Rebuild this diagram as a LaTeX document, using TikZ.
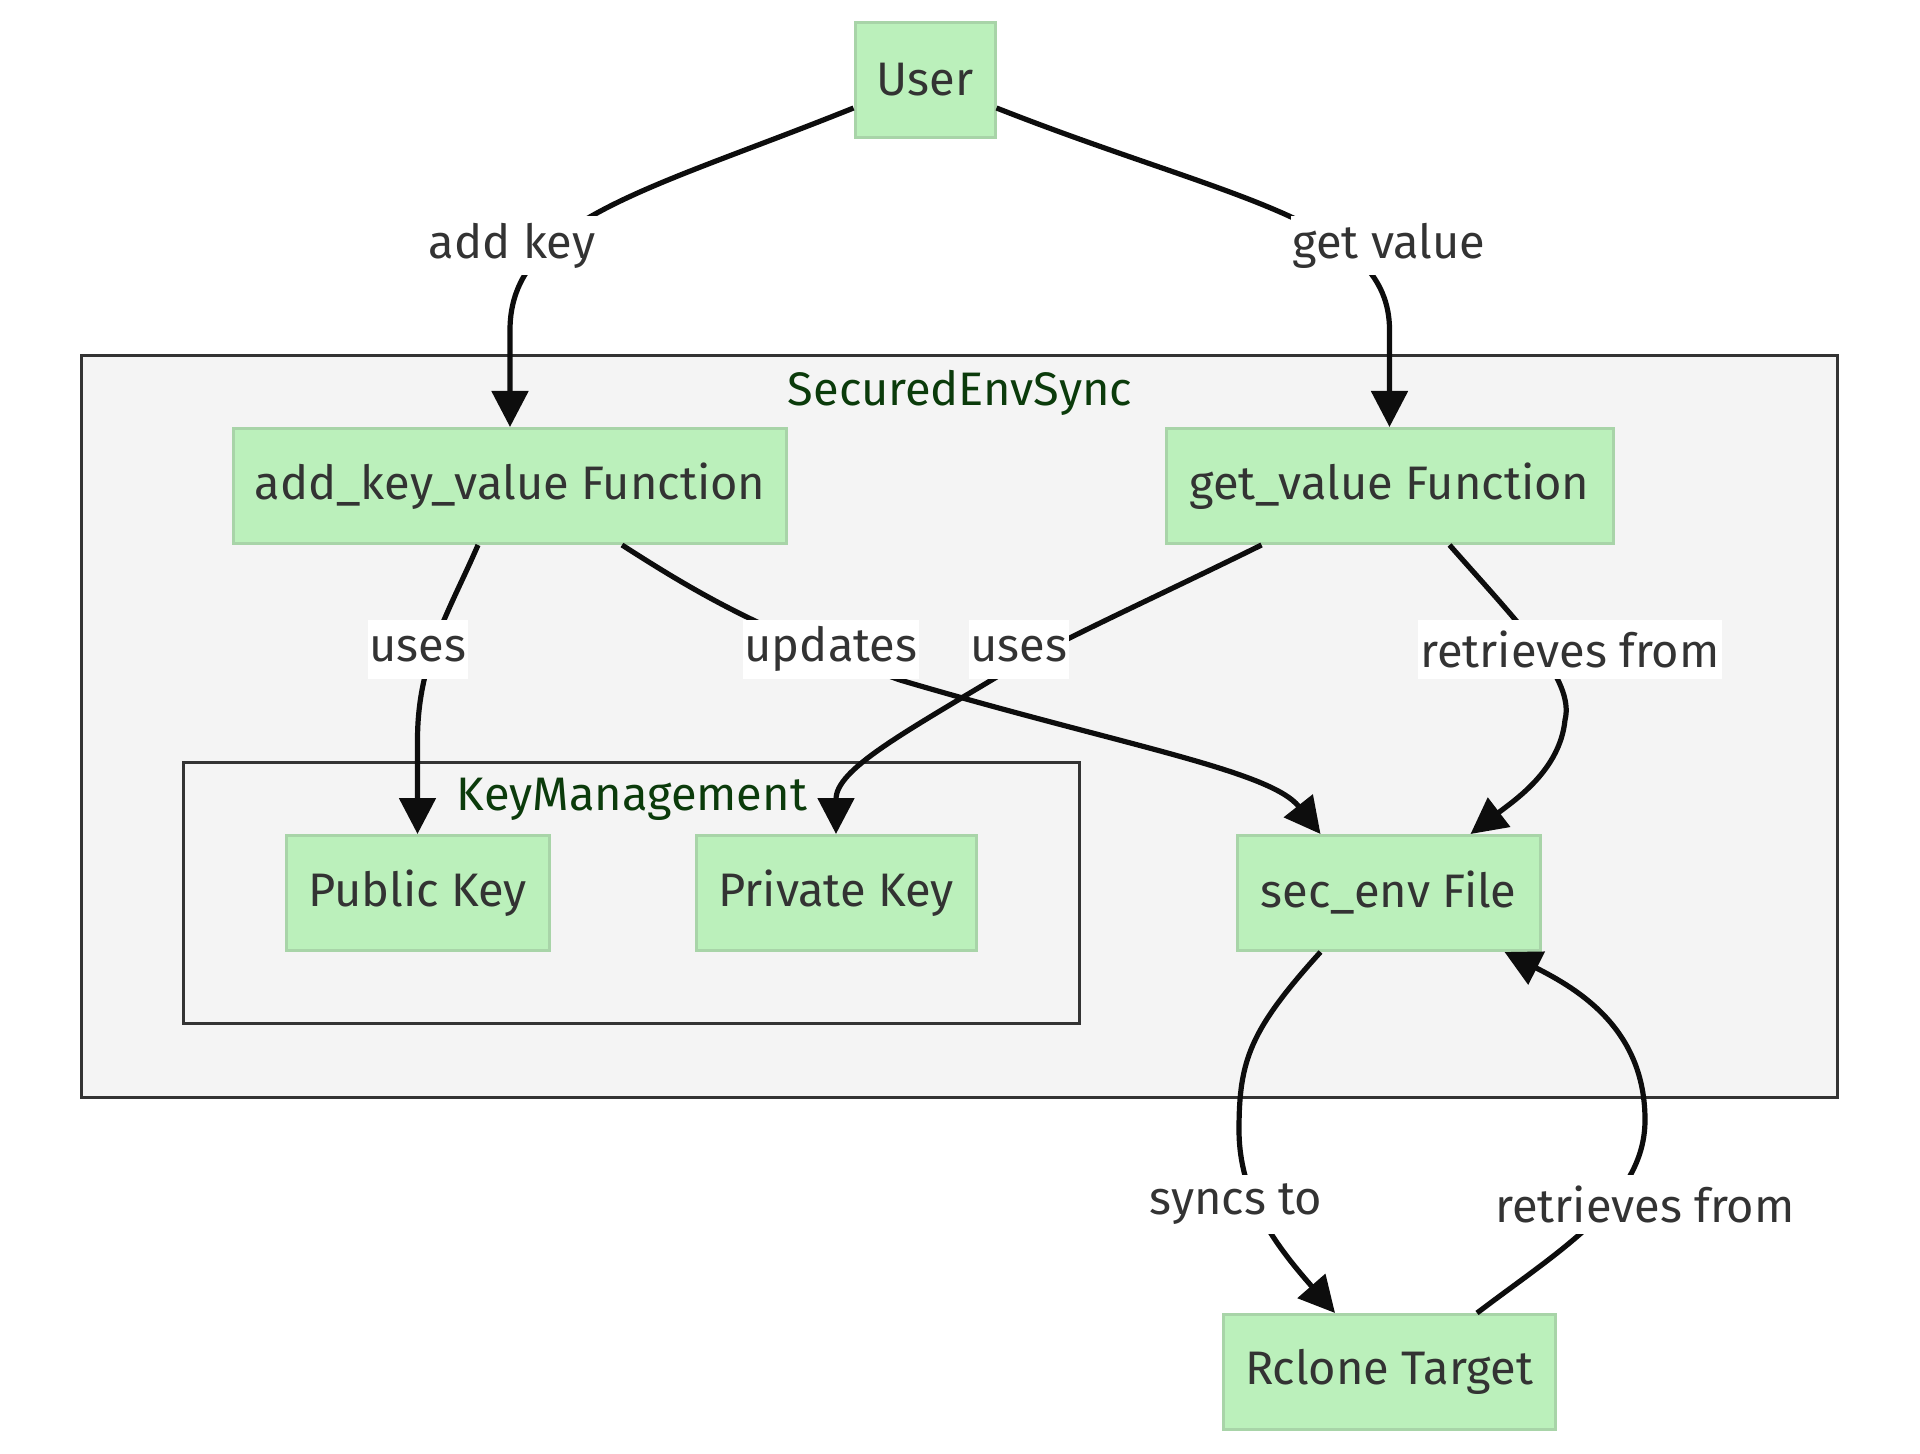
\documentclass[tikz,border=0pt]{standalone}
\usepackage{fontspec}
\setmainfont{Fira Sans}
\usetikzlibrary{arrows.meta}
\definecolor{nodefill}{HTML}{BBF0BB}
\definecolor{nodeline}{HTML}{A8D4A8}
\definecolor{clfill}{HTML}{F4F4F4}
\definecolor{clline}{HTML}{333333}
\definecolor{titlecol}{HTML}{0B3B0B}
\definecolor{txt}{HTML}{333333}
\definecolor{edgecol}{HTML}{0D0D0D}
\tikzset{
  box/.style={draw=nodeline, fill=nodefill, line width=1.5pt, inner sep=0pt,
    minimum height=57.5pt, text=txt, font=\fontsize{23.5}{28}\selectfont},
  cluster/.style={draw=clline, fill=clfill, line width=1.5pt},
  cltitle/.style={text=titlecol, font=\fontsize{23.5}{28}\selectfont, inner sep=0pt},
  elabel/.style={fill=white, text=txt, font=\fontsize{23.5}{28}\selectfont,
    inner xsep=1pt, inner ysep=0pt, minimum height=29.5pt},
  edge/.style={draw=edgecol, line width=2.6pt, -{Triangle[length=18pt,width=18pt]}}
}
\begin{document}
\begin{tikzpicture}[x=0.5pt,y=-0.5pt]
\useasboundingbox (0,0) rectangle (1920,1454);
% clusters
\draw[cluster] (81,356) rectangle (1837,1097);
\node[cltitle] (t1) at (960,393) {SecuredEnvSync};
\draw[cluster] (183,762) rectangle (1079,1023);
\node[cltitle] (t2) at (632,799) {KeyManagement};
% nodes
\node[box, minimum width=70pt] (user) at (925,80) {User};
\node[box, minimum width=276.5pt] (addkv) at (510,486) {add\_key\_value Function};
\node[box, minimum width=223.5pt] (getv) at (1389.5,486) {get\_value Function};
\node[box, minimum width=131.5pt] (pub) at (417.5,893) {Public Key};
\node[box, minimum width=140pt] (priv) at (836,893) {Private Key};
\node[box, minimum width=151.5pt] (secenv) at (1388.5,893) {sec\_env File};
\node[box, minimum width=166pt] (rclone) at (1389,1372) {Rclone Target};
% edges
\draw[edge] ([yshift=-14pt]user.west) .. controls (650,190) and (510,220) .. (510,330) -- (addkv.north);
\draw[edge] ([yshift=-14pt]user.east) .. controls (1230,200) and (1389.5,220) .. (1389.5,330) -- (getv.north);
\draw[edge] ([xshift=-16pt]addkv.south) .. controls (450,610) and (417.5,660) .. (417.5,740) -- (pub.north);
\draw[edge] ([xshift=56pt]addkv.south) .. controls (700,595) and (760,630) .. (900,680)
  .. controls (1120,745) and (1270,770) .. ([xshift=-34pt]secenv.north);
\draw[edge] ([xshift=-64pt]getv.south) .. controls (1150,600) and (1060,640) .. (1000,675)
  .. controls (900,735) and (836,770) .. (priv.north);
\draw[edge] ([xshift=30pt]getv.south) .. controls (1520,625) and (1575,680) .. (1565,720)
  .. controls (1560,770) and (1515,800) .. ([xshift=41pt]secenv.north);
\draw[edge] ([xshift=-34pt]secenv.south) .. controls (1250,1030) and (1239,1060) .. (1239,1130)
  .. controls (1239,1200) and (1280,1250) .. ([xshift=-27pt]rclone.north);
\draw[edge] ([xshift=44pt]rclone.north) .. controls (1560,1250) and (1645,1200) .. (1645,1120)
  .. controls (1645,1030) and (1580,990) .. ([xshift=58pt]secenv.south);
% labels
\node[elabel] (l1) at (512,246) {add key};
\node[elabel] (l2) at (1389,246) {get value};
\node[elabel] (l3) at (418,649) {uses};
\node[elabel] (l4) at (831,649) {updates};
\node[elabel] (l5) at (1019,649) {uses};
\node[elabel] (l6) at (1570,649) {retrieves from};
\node[elabel] (l7) at (1236,1204) {syncs to};
\node[elabel] (l8) at (1645,1204) {retrieves from};
\end{tikzpicture}
\end{document}
